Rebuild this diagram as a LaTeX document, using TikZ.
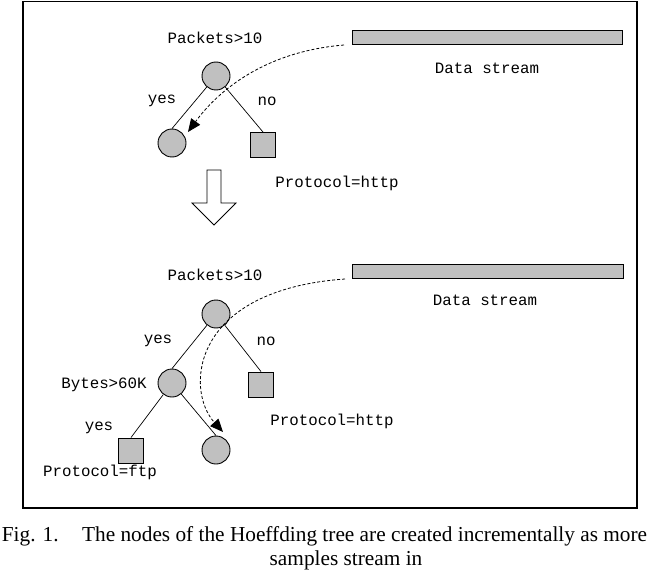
\documentclass[tikz,border=0pt]{standalone}
\usepackage{fontspec}
\setmainfont{Liberation Serif}
\newfontfamily\treefont{Liberation Mono}
\usetikzlibrary{arrows.meta}
\definecolor{nodegray}{HTML}{C0C0C0}
\tikzset{
  lbl/.style={font=\fontsize{15.8}{18}\selectfont\treefont, inner sep=0pt},
  rnode/.style={circle, draw, fill=nodegray, line width=0.9pt, minimum size=28pt, inner sep=0pt},
  snode/.style={rectangle, draw, fill=nodegray, line width=0.9pt, minimum size=25pt, inner sep=0pt},
  edge/.style={line width=0.7pt},
  flow/.style={line width=0.8pt, dash pattern=on 3pt off 2pt, -{Triangle[length=13pt,width=11pt]}},
  bar/.style={draw, fill=nodegray, line width=1pt},
  captext/.style={font=\fontsize{21.3}{24}\selectfont, inner sep=0pt}
}
\begin{document}
\begin{tikzpicture}[x=1pt,y=-1pt]
\useasboundingbox (0,0) rectangle (650,572);
\fill[white] (0,0) rectangle (650,572);
\draw[line width=1.2pt] (23,1.5) rectangle (637,508);

% ---- top stage
\node[bar, minimum width=270pt, minimum height=14pt, inner sep=0pt] (bar1) at (487,38) {};
\node[lbl] (ds1) at (487,68) {Data stream};
\node[lbl] (p1) at (215,38) {Packets>10};
\node[rnode] (r1) at (216,76) {};
\node[rnode] (c1) at (172,143) {};
\node[snode] (s1) at (263,145) {};
\draw[edge] (r1) -- (c1.north);
\draw[edge] (r1) -- (s1.north);
\node[lbl] (y1) at (162,101) {yes};
\node[lbl] (n1) at (267,101) {no};
\node[lbl] (h1) at (337,183) {Protocol=http};
\coordinate (a1s) at (344,45);
\coordinate (a1e) at (188,132);
\draw[flow] (a1s) .. controls (260,52) and (215,95) .. (a1e);

% ---- hollow arrow
\draw[line width=0.8pt, fill=white] (207,170) -- (221,170) -- (221,203) -- (236,203) -- (214,225) -- (192,203) -- (207,203) -- cycle;

% ---- bottom stage
\node[bar, minimum width=271pt, minimum height=14pt, inner sep=0pt] (bar2) at (487.5,271) {};
\node[lbl] (ds2) at (485,300) {Data stream};
\node[lbl] (p2) at (215,275) {Packets>10};
\node[rnode] (r2) at (216,314) {};
\node[rnode] (b2) at (172,383) {};
\node[snode] (s2) at (261,384.5) {};
\node[snode] (s3) at (131,450.5) {};
\node[rnode] (c3) at (216,450) {};
\draw[edge] (r2) -- (b2.north);
\draw[edge] (r2) -- (s2.north);
\draw[edge] (b2) -- (s3.north);
\draw[edge] (b2) -- (c3.north);
\node[lbl] (y2) at (158,341) {yes};
\node[lbl] (n2) at (266,341) {no};
\node[lbl] (bt) at (104,385) {Bytes>60K};
\node[lbl] (h2) at (332,421) {Protocol=http};
\node[lbl] (y3) at (99,428) {yes};
\node[lbl] (f3) at (100,472) {Protocol=ftp};
\coordinate (a2s) at (345,279);
\coordinate (a2e) at (223,432);
\draw[flow] (a2s) .. controls (190,290) and (185,390) .. (a2e);

% ---- caption
\node[captext, anchor=base] (cap1) at (324.5,541) {Fig. 1.\hspace{1.1em}The nodes of the Hoeffding tree are created incrementally as more};
\node[captext, anchor=base] (cap2) at (346,565) {samples stream in};
\end{tikzpicture}
\end{document}
